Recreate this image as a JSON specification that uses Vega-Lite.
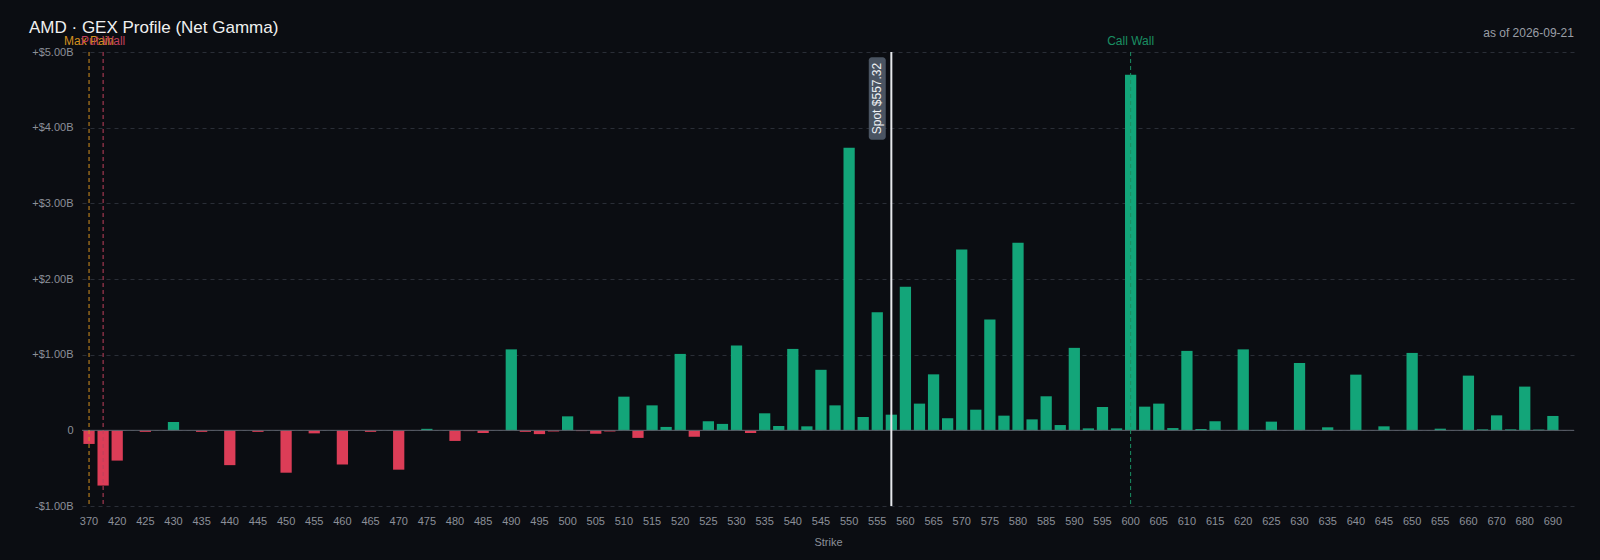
{
  "$schema": "https://vega.github.io/schema/vega-lite/v6.json",
  "autosize": "none",
  "width": 1492,
  "height": 454,
  "padding": {"left": 82, "top": 52, "right": 26, "bottom": 54},
  "background": "#0b0d12",
  "title": {
    "text": "AMD · GEX Profile (Net Gamma)",
    "anchor": "start",
    "frame": "group",
    "dx": -53,
    "offset": -23,
    "baseline": "alphabetic",
    "font": "Liberation Sans",
    "fontSize": 17,
    "fontWeight": "normal",
    "color": "#f0f0f0"
  },
  "config": {
    "view": {"stroke": null},
    "font": "Liberation Sans",
    "axis": {
      "labelFont": "Liberation Sans",
      "labelFontSize": 11,
      "labelColor": "#8c9099",
      "titleFont": "Liberation Sans",
      "titleFontSize": 11,
      "titleFontWeight": "normal",
      "titleColor": "#8c9099",
      "domain": false,
      "ticks": false
    }
  },
  "datasets": {
    "gex": [
      {"strike": 370, "gex": -0.18}, {"strike": 400, "gex": -0.73},
      {"strike": 420, "gex": -0.40}, {"strike": 422.5, "gex": 0},
      {"strike": 425, "gex": -0.02}, {"strike": 427.5, "gex": 0},
      {"strike": 430, "gex": 0.11}, {"strike": 432.5, "gex": 0},
      {"strike": 435, "gex": -0.02}, {"strike": 437.5, "gex": 0},
      {"strike": 440, "gex": -0.46}, {"strike": 442.5, "gex": 0},
      {"strike": 445, "gex": -0.02}, {"strike": 447.5, "gex": 0},
      {"strike": 450, "gex": -0.56}, {"strike": 452.5, "gex": 0},
      {"strike": 455, "gex": -0.04}, {"strike": 457.5, "gex": 0},
      {"strike": 460, "gex": -0.45}, {"strike": 462.5, "gex": 0},
      {"strike": 465, "gex": -0.02}, {"strike": 467.5, "gex": 0},
      {"strike": 470, "gex": -0.52}, {"strike": 472.5, "gex": 0},
      {"strike": 475, "gex": 0.02}, {"strike": 477.5, "gex": 0},
      {"strike": 480, "gex": -0.14}, {"strike": 482.5, "gex": -0.01},
      {"strike": 485, "gex": -0.035}, {"strike": 487.5, "gex": 0},
      {"strike": 490, "gex": 1.07}, {"strike": 492.5, "gex": -0.02},
      {"strike": 495, "gex": -0.05}, {"strike": 497.5, "gex": -0.015},
      {"strike": 500, "gex": 0.185}, {"strike": 502.5, "gex": -0.01},
      {"strike": 505, "gex": -0.045}, {"strike": 507.5, "gex": -0.015},
      {"strike": 510, "gex": 0.445}, {"strike": 512.5, "gex": -0.10},
      {"strike": 515, "gex": 0.33}, {"strike": 517.5, "gex": 0.045},
      {"strike": 520, "gex": 1.01}, {"strike": 522.5, "gex": -0.085},
      {"strike": 525, "gex": 0.12}, {"strike": 527.5, "gex": 0.085},
      {"strike": 530, "gex": 1.12}, {"strike": 532.5, "gex": -0.035},
      {"strike": 535, "gex": 0.225}, {"strike": 537.5, "gex": 0.057},
      {"strike": 540, "gex": 1.076}, {"strike": 542.5, "gex": 0.053},
      {"strike": 545, "gex": 0.80}, {"strike": 547.5, "gex": 0.33},
      {"strike": 550, "gex": 3.735}, {"strike": 552.5, "gex": 0.176},
      {"strike": 555, "gex": 1.56}, {"strike": 557.5, "gex": 0.207},
      {"strike": 560, "gex": 1.896}, {"strike": 562.5, "gex": 0.353},
      {"strike": 565, "gex": 0.74}, {"strike": 567.5, "gex": 0.16},
      {"strike": 570, "gex": 2.39}, {"strike": 572.5, "gex": 0.273},
      {"strike": 575, "gex": 1.464}, {"strike": 577.5, "gex": 0.194},
      {"strike": 580, "gex": 2.48}, {"strike": 582.5, "gex": 0.145},
      {"strike": 585, "gex": 0.45}, {"strike": 587.5, "gex": 0.07},
      {"strike": 590, "gex": 1.09}, {"strike": 592.5, "gex": 0.026},
      {"strike": 595, "gex": 0.31}, {"strike": 597.5, "gex": 0.026},
      {"strike": 600, "gex": 4.70}, {"strike": 602.5, "gex": 0.313},
      {"strike": 605, "gex": 0.353}, {"strike": 607.5, "gex": 0.03},
      {"strike": 610, "gex": 1.05}, {"strike": 612.5, "gex": 0.018},
      {"strike": 615, "gex": 0.12}, {"strike": 617.5, "gex": 0},
      {"strike": 620, "gex": 1.07}, {"strike": 622.5, "gex": 0.005},
      {"strike": 625, "gex": 0.115}, {"strike": 627.5, "gex": 0},
      {"strike": 630, "gex": 0.89}, {"strike": 632.5, "gex": 0},
      {"strike": 635, "gex": 0.04}, {"strike": 637.5, "gex": 0},
      {"strike": 640, "gex": 0.736}, {"strike": 642.5, "gex": 0},
      {"strike": 645, "gex": 0.053}, {"strike": 647.5, "gex": 0},
      {"strike": 650, "gex": 1.023}, {"strike": 652.5, "gex": 0},
      {"strike": 655, "gex": 0.022}, {"strike": 657.5, "gex": 0},
      {"strike": 660, "gex": 0.723}, {"strike": 665, "gex": 0.013},
      {"strike": 670, "gex": 0.198}, {"strike": 675, "gex": 0.013},
      {"strike": 680, "gex": 0.578}, {"strike": 685, "gex": 0.01},
      {"strike": 690, "gex": 0.19}, {"strike": 695, "gex": 0}
    ],
    "levels": [
      {"label": "Max Pain", "strike": 370},
      {"label": "Put Wall", "strike": 400},
      {"label": "Call Wall", "strike": 600}
    ],
    "spot": [
      {"label": "Spot $557.32", "strike": 557.5, "boxStrike": 555}
    ],
    "asof": [
      {"label": "as of 2026-09-21", "strike": 695}
    ]
  },
  "data": {"name": "gex"},
  "layer": [
    {
      "mark": {"type": "bar", "width": {"band": 0.8}},
      "encoding": {
        "x": {
          "field": "strike",
          "type": "ordinal",
          "title": "Strike",
          "scale": {"paddingInner": 0, "paddingOuter": 0},
          "axis": {
            "labelAngle": 0,
            "labelPadding": 9,
            "titlePadding": 10,
            "grid": false,
            "values": [370, 420, 425, 430, 435, 440, 445, 450, 455, 460, 465, 470, 475, 480, 485, 490, 495, 500, 505, 510, 515, 520, 525, 530, 535, 540, 545, 550, 555, 560, 565, 570, 575, 580, 585, 590, 595, 600, 605, 610, 615, 620, 625, 630, 635, 640, 645, 650, 655, 660, 670, 680, 690]
          }
        },
        "y": {
          "field": "gex",
          "type": "quantitative",
          "title": null,
          "scale": {"domain": [-1, 5], "nice": false},
          "axis": {
            "values": [-1, 0, 1, 2, 3, 4, 5],
            "labelPadding": 9,
            "grid": true,
            "gridColor": "#2a2e37",
            "gridDash": [4, 4],
            "gridWidth": 1,
            "labelExpr": "datum.value == 0 ? '0' : (datum.value > 0 ? '+$' : '-$') + format(abs(datum.value), '.2f') + 'B'"
          }
        },
        "color": {
          "condition": {"test": "datum.gex < 0", "value": "#dc3d57"},
          "value": "#13a579"
        }
      }
    },
    {
      "data": {"values": [{"zero": 0}]},
      "mark": {"type": "rule", "color": "#5d626b", "strokeWidth": 1},
      "encoding": {"y": {"field": "zero", "type": "quantitative"}}
    },
    {
      "data": {"name": "levels"},
      "mark": {"type": "rule", "strokeDash": [4, 3], "strokeWidth": 1},
      "encoding": {
        "x": {"field": "strike", "type": "ordinal"},
        "color": {
          "field": "label",
          "type": "nominal",
          "legend": null,
          "scale": {"domain": ["Max Pain", "Put Wall", "Call Wall"], "range": ["#d4901f", "#c0405c", "#1a8f62"]}
        }
      }
    },
    {
      "data": {"name": "levels"},
      "mark": {"type": "text", "align": "center", "baseline": "alphabetic", "dy": -7, "fontSize": 12},
      "encoding": {
        "x": {"field": "strike", "type": "ordinal"},
        "y": {"datum": 5},
        "text": {"field": "label"},
        "color": {"field": "label", "type": "nominal", "legend": null}
      }
    },
    {
      "data": {"name": "spot"},
      "mark": {"type": "rule", "color": "#e6e8ec", "strokeWidth": 2},
      "encoding": {"x": {"field": "strike", "type": "ordinal"}}
    },
    {
      "data": {"name": "spot"},
      "mark": {"type": "bar", "width": 17, "cornerRadius": 3, "color": "#4a5462"},
      "encoding": {
        "x": {"field": "boxStrike", "type": "ordinal"},
        "y": {"datum": 3.84},
        "y2": {"datum": 4.93}
      }
    },
    {
      "data": {"name": "spot"},
      "mark": {"type": "text", "angle": 270, "align": "center", "baseline": "middle", "fontSize": 12, "color": "#eef0f3"},
      "encoding": {
        "x": {"field": "boxStrike", "type": "ordinal"},
        "y": {"datum": 4.385},
        "text": {"field": "label"}
      }
    },
    {
      "data": {"name": "asof"},
      "mark": {"type": "text", "align": "right", "baseline": "alphabetic", "dx": 7, "dy": -15, "fontSize": 12, "color": "#9a9ea6"},
      "encoding": {
        "x": {"field": "strike", "type": "ordinal"},
        "y": {"datum": 5},
        "text": {"field": "label"}
      }
    }
  ]
}
